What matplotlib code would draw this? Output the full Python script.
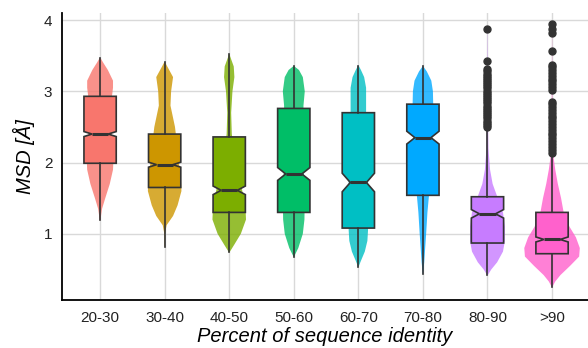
import matplotlib
matplotlib.use("Agg")
import matplotlib.pyplot as plt
import numpy as np

plt.rcParams["font.family"] = ["Liberation Sans", "DejaVu Sans"]

groups = ["20-30", "30-40", "40-50", "50-60", "60-70", "70-80", "80-90", ">90"]
colors = ["#F8766D", "#CD9600", "#7CAE00", "#00BE67",
          "#00BFC4", "#00A9FF", "#C77CFF", "#FF61CC"]

# box statistics
q1 = [1.99, 1.65, 1.30, 1.30, 1.08, 1.54, 0.87, 0.72]
med = [2.40, 1.97, 1.61, 1.84, 1.72, 2.35, 1.28, 0.92]
q3 = [2.93, 2.40, 2.36, 2.76, 2.70, 2.82, 1.52, 1.30]
whislo = [1.19, 0.82, 0.74, 0.68, 0.54, 0.44, 0.42, 0.25]
whishi = [3.47, 3.41, 3.52, 3.35, 3.36, 3.35, 2.47, 2.12]
notch = [0.035, 0.035, 0.06, 0.09, 0.13, 0.09, 0.06, 0.035]

fliers = [
    [], [], [], [], [], [],
    [2.50, 2.53, 2.56, 2.59, 2.62, 2.65, 2.68, 2.71, 2.74, 2.77, 2.80, 2.83,
     2.86, 2.89, 2.92, 2.95, 2.98, 3.01, 3.04, 3.07, 3.10, 3.13, 3.16, 3.19,
     3.22, 3.25, 3.28, 3.31, 3.42, 3.87],
    [2.14, 2.18, 2.22, 2.26, 2.30, 2.34, 2.38, 2.42, 2.46, 2.50, 2.54, 2.58,
     2.62, 2.66, 2.70, 2.74, 2.78, 2.82, 2.85, 3.02, 3.06, 3.10, 3.14, 3.18,
     3.22, 3.26, 3.30, 3.34, 3.37, 3.57, 3.82, 3.88, 3.94],
]

# violin outlines: levels and half widths (category units)
vy = [
    [1.19, 1.35, 1.5, 1.7, 1.9, 2.1, 2.4, 2.7, 2.9, 3.05, 3.15, 3.3, 3.4, 3.47],
    [0.82, 1.0, 1.12, 1.25, 1.4, 1.6, 1.8, 2.0, 2.2, 2.5, 2.8, 3.0, 3.2, 3.35, 3.41],
    [0.74, 0.85, 1.0, 1.2, 1.4, 1.7, 2.0, 2.4, 2.7, 3.0, 3.2, 3.35, 3.45, 3.52],
    [0.68, 0.8, 1.0, 1.2, 1.5, 2.0, 2.5, 2.8, 3.0, 3.2, 3.3, 3.35],
    [0.54, 0.62, 0.75, 0.9, 1.05, 1.3, 1.7, 2.2, 2.7, 2.9, 3.05, 3.2, 3.3, 3.36],
    [0.44, 0.6, 0.8, 1.0, 1.3, 1.6, 2.0, 2.5, 2.8, 3.0, 3.15, 3.28, 3.35],
    [0.42, 0.5, 0.6, 0.75, 0.9, 1.1, 1.3, 1.5, 1.7, 1.9, 2.2, 2.6, 3.0, 3.5, 3.87],
    [0.25, 0.33, 0.42, 0.55, 0.68, 0.8, 0.95, 1.1, 1.3, 1.5, 1.7, 1.9, 2.1,
     2.5, 3.0, 3.5, 3.93],
]
vw = [
    [0.005, 0.03, 0.08, 0.15, 0.2, 0.21, 0.18, 0.16, 0.18, 0.2, 0.2, 0.12, 0.05, 0.005],
    [0.003, 0.005, 0.03, 0.13, 0.2, 0.26, 0.25, 0.22, 0.2, 0.16, 0.09, 0.1, 0.13, 0.04, 0.005],
    [0.005, 0.08, 0.18, 0.26, 0.25, 0.18, 0.1, 0.04, 0.03, 0.05, 0.08, 0.07, 0.03, 0.003],
    [0.005, 0.07, 0.14, 0.165, 0.17, 0.15, 0.15, 0.15, 0.17, 0.14, 0.08, 0.01],
    [0.005, 0.04, 0.1, 0.14, 0.15, 0.15, 0.15, 0.14, 0.12, 0.12, 0.12, 0.09, 0.04, 0.005],
    [0.003, 0.02, 0.035, 0.05, 0.07, 0.1, 0.13, 0.15, 0.16, 0.155, 0.13, 0.06, 0.005],
    [0.005, 0.06, 0.15, 0.24, 0.27, 0.27, 0.24, 0.16, 0.08, 0.04, 0.015, 0.008, 0.005, 0.003, 0.001],
    [0.003, 0.05, 0.13, 0.28, 0.42, 0.43, 0.37, 0.27, 0.18, 0.14, 0.09, 0.05, 0.02,
     0.008, 0.004, 0.002, 0.001],
]

pos = np.arange(1, len(groups) + 1)

fig = plt.figure(figsize=(5.88, 3.48), dpi=100)
ax = fig.add_axes([62 / 588, 48 / 348, 526 / 588, 287 / 348])

vstats = []
for i in range(len(groups)):
    vstats.append({"coords": vy[i], "vals": vw[i], "mean": med[i], "median": med[i],
                   "min": vy[i][0], "max": vy[i][-1]})
widths = [2 * max(w) for w in vw]
parts = ax.violin(vstats, positions=pos, widths=widths, showextrema=False)
for body, c in zip(parts["bodies"], colors):
    body.set_facecolor(c)
    body.set_edgecolor("none")
    body.set_alpha(0.8)
    body.set_zorder(2)

bstats = []
for i in range(len(groups)):
    bstats.append({"med": med[i], "q1": q1[i], "q3": q3[i],
                   "whislo": whislo[i], "whishi": whishi[i], "fliers": fliers[i],
                   "cilo": med[i] - notch[i], "cihi": med[i] + notch[i]})
bp = ax.bxp(bstats, positions=pos, widths=0.5, shownotches=True, showcaps=False,
            patch_artist=True, zorder=3,
            boxprops=dict(edgecolor="#333333", linewidth=1.2),
            whiskerprops=dict(color="#333333", linewidth=1.2),
            medianprops=dict(color="#333333", linewidth=2.2),
            flierprops=dict(marker="o", markerfacecolor="#333333",
                            markeredgecolor="#333333", markersize=5))
for box, c in zip(bp["boxes"], colors):
    box.set_facecolor(c)

ax.set_xlim(0.41, 8.557)
ax.set_ylim(0.07, 4.1)
ax.set_yticks([1, 2, 3, 4])
ax.set_xticks(pos)
ax.set_xticklabels(groups)
ax.grid(True, color="#D9D9D9", linewidth=1.0)
ax.set_axisbelow(True)
for s in ["top", "right"]:
    ax.spines[s].set_visible(False)
for s in ["left", "bottom"]:
    ax.spines[s].set_color("black")
    ax.spines[s].set_linewidth(1.3)
ax.tick_params(length=0, labelsize=11, labelcolor="#222222")
ax.tick_params(axis="x", pad=8)
ax.tick_params(axis="y", pad=7)
ax.set_xlabel("Percent of sequence identity", fontsize=14.5, style="italic", labelpad=1)
ax.set_ylabel("MSD [Å]", fontsize=14.5, style="italic", labelpad=6)

fig.savefig("out.png", dpi=100)
